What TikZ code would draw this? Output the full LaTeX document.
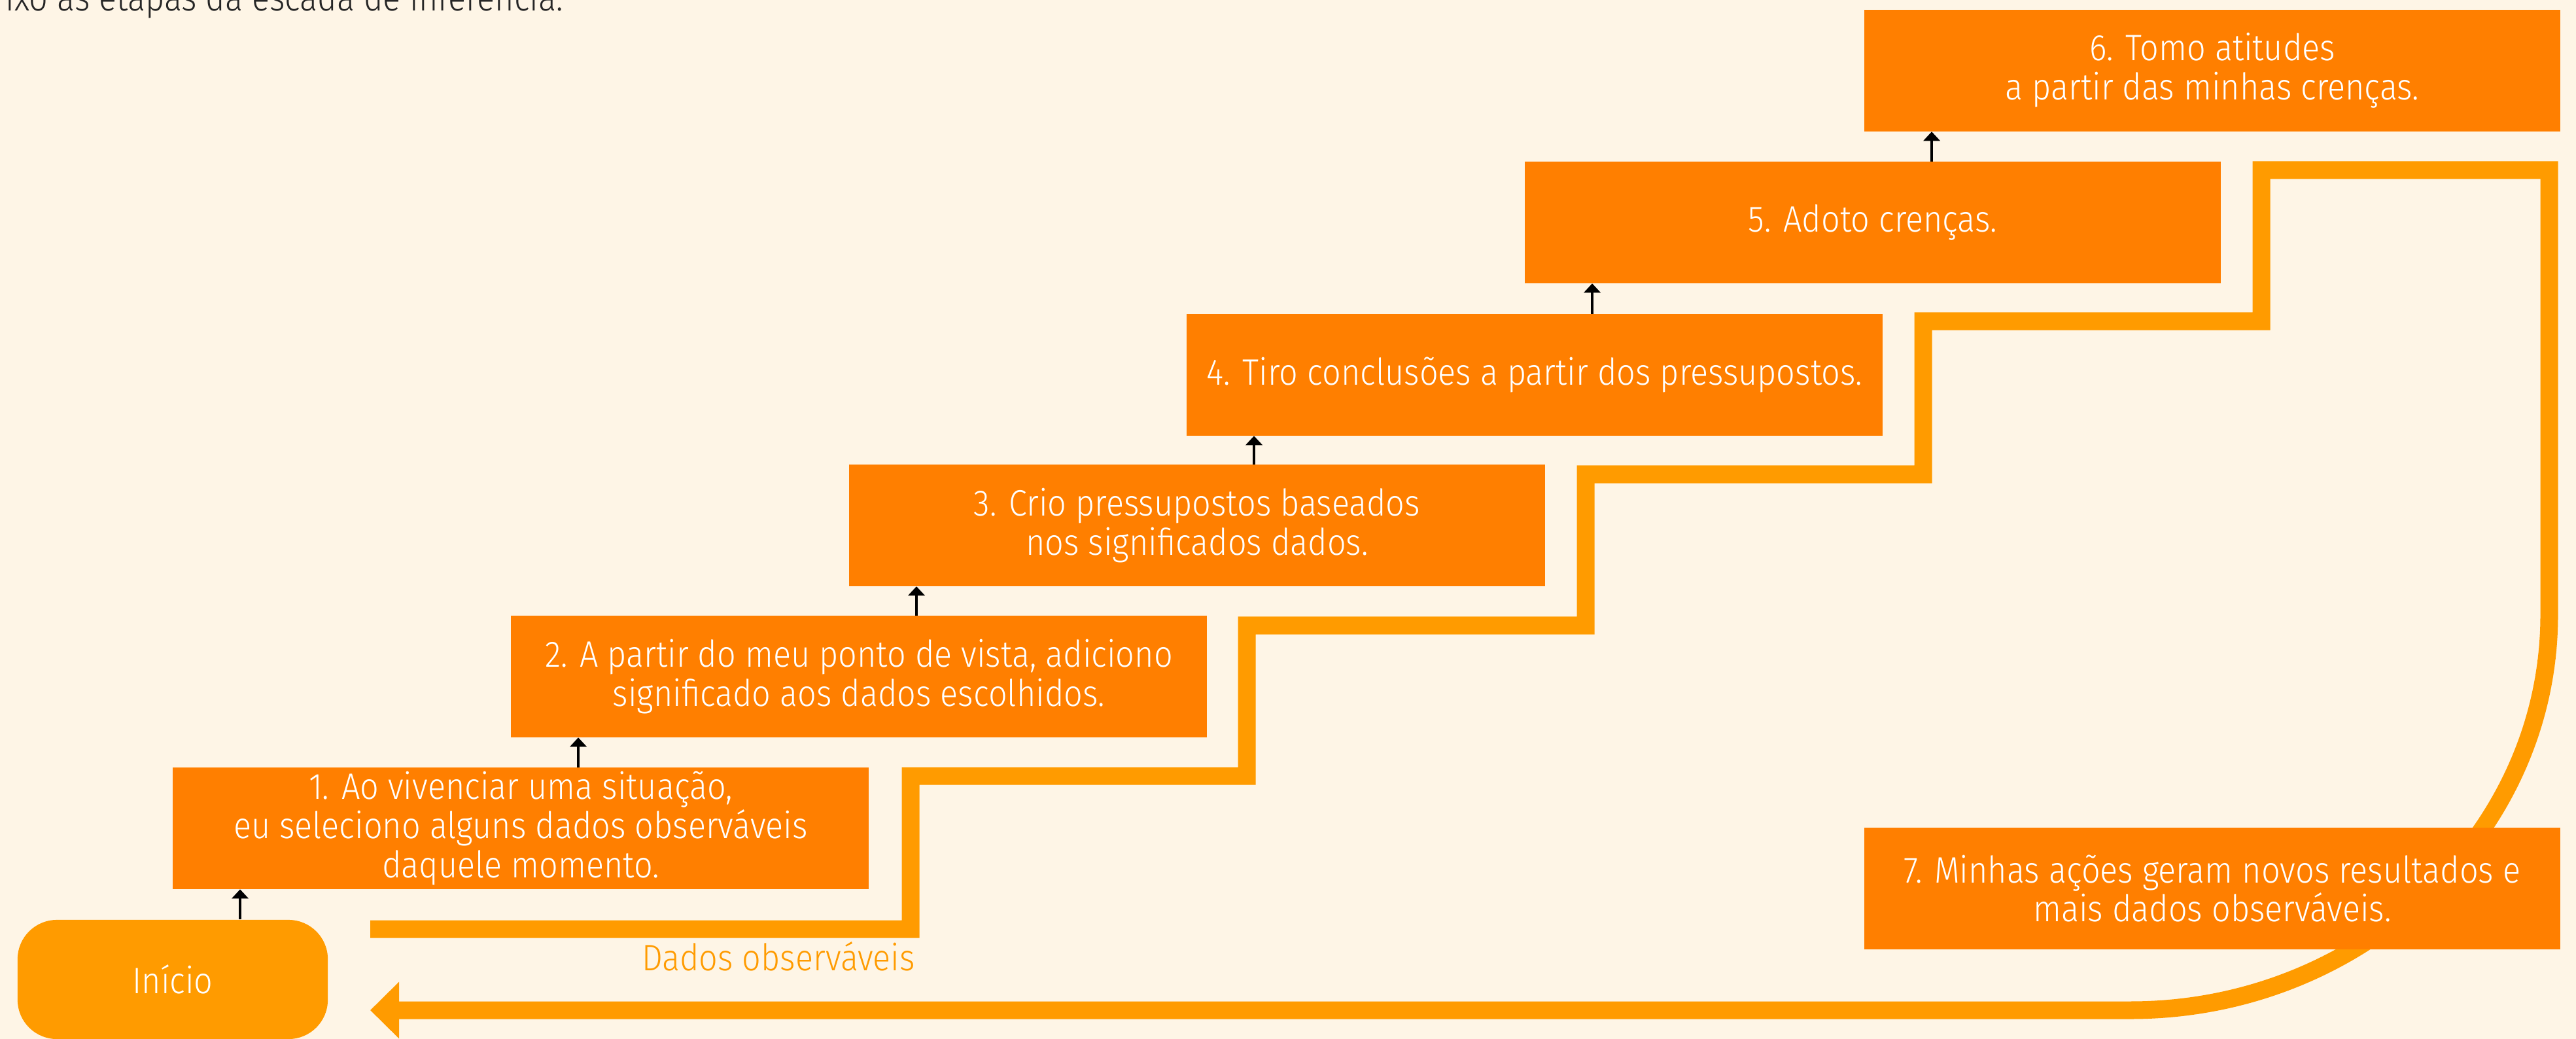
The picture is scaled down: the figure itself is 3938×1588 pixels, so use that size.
\documentclass[tikz,border=0pt]{standalone}
\usepackage{fontspec}
\setmainfont{Fira Sans Light}[FakeStretch=0.895]
\usetikzlibrary{arrows.meta}
\definecolor{fundo}{HTML}{FEF5E6}
\definecolor{laranja}{HTML}{FF7F00}
\definecolor{laranjaclaro}{HTML}{FF9B00}

\begin{document}
\begin{tikzpicture}[
x=0.01cm, y=-0.01cm,
passo/.style={rectangle, fill=laranja, text=white, minimum width=10.64cm, minimum height=1.85cm, inner sep=0pt, align=center, font=\fontsize{16pt}{17pt}\selectfont},
inicio/.style={rectangle, rounded corners=0.6cm, fill=laranjaclaro, text=white, minimum width=4.74cm, minimum height=1.82cm, font=\fontsize{16pt}{17pt}\selectfont},
rotulo/.style={anchor=base, text=laranjaclaro, font=\fontsize{16pt}{17pt}\selectfont},
seta/.style={-{Triangle[width=0.25cm, length=0.14cm]}, line width=0.04cm, black},
degraus/.style={draw=laranjaclaro, line width=0.27cm, -{Triangle[length=0.44cm, width=0.84cm]}},
]
\fill[fundo] (0,0) rectangle (3938,1588);
\useasboundingbox (0,0) rectangle (3938,1588);

% escada
\draw[degraus] (566,1420) -| (1392,1186) -| (1906,956) -| (2424,725) -| (2940,491) -| (3457,260) -| (3897,940)
	.. controls (3897,1273) and (3610,1544) .. (3257,1544) -- (566,1544);

\node[anchor=base west, text=black!85, font=\fontsize{16pt}{17pt}\selectfont] (titulo) at (-4,17) {ixo as etapas da escada de inferência.};

\node[inicio] (ini) at (264,1497) {Início};
\node[passo] (p1) at (796,1266) {1. Ao vivenciar uma situação,\\eu seleciono alguns dados observáveis\\daquele momento.};
\node[passo] (p2) at (1313,1034) {2. A partir do meu ponto de vista, adiciono\\significado aos dados escolhidos.};
\node[passo] (p3) at (1830,803) {3. Crio pressupostos baseados\\nos significados dados.};
\node[passo] (p4) at (2346,573) {4. Tiro conclusões a partir dos pressupostos.};
\node[passo] (p5) at (2863,340) {5. Adoto crenças.};
\node[passo] (p6) at (3382,108) {6. Tomo atitudes\\a partir das minhas crenças.};
\node[passo] (p7) at (3382,1358) {7. Minhas ações geram novos resultados e\\mais dados observáveis.};
\node[rotulo] (dados) at (1190,1483) {Dados observáveis};

% setas
\coordinate (s1) at ([xshift=1.04cm]p1.south west);
\coordinate (s2) at ([xshift=1.04cm]p2.south west);
\coordinate (s3) at ([xshift=1.04cm]p3.south west);
\coordinate (s4) at ([xshift=1.04cm]p4.south west);
\coordinate (s5) at ([xshift=1.04cm]p5.south west);
\coordinate (s6) at ([xshift=1.04cm]p6.south west);
\draw[seta] (s1 |- ini.north) -- (s1);
\draw[seta] (s2 |- p1.north) -- (s2);
\draw[seta] (s3 |- p2.north) -- (s3);
\draw[seta] (s4 |- p3.north) -- (s4);
\draw[seta] (s5 |- p4.north) -- (s5);
\draw[seta] (s6 |- p5.north) -- (s6);
\end{tikzpicture}
\end{document}
